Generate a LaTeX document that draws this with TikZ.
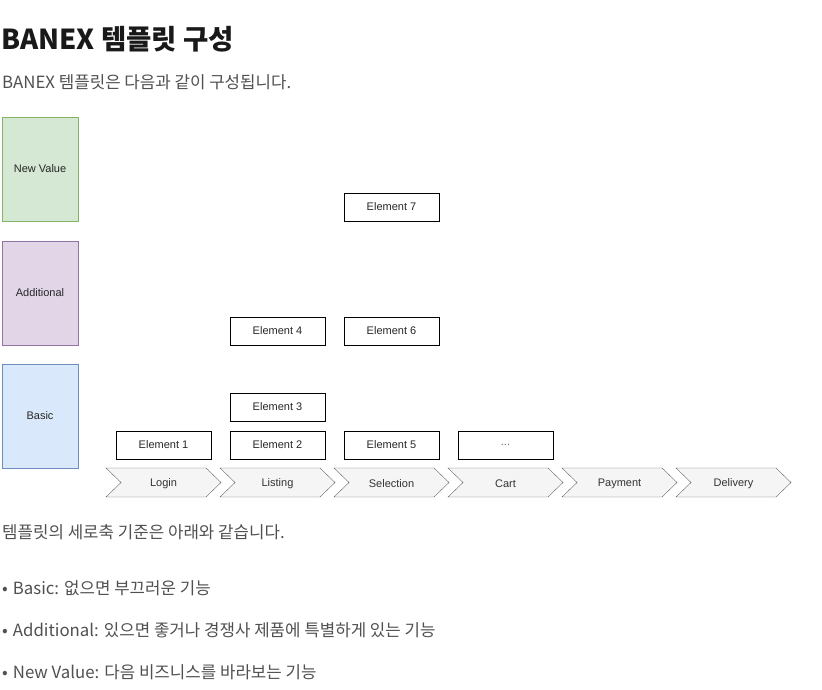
\documentclass[tikz,border=0pt]{standalone}
\usepackage{fontspec}
\setmainfont{Noto Sans CJK KR}
\newfontfamily\drawiofont{Liberation Sans}
\definecolor{bodytext}{HTML}{505050}
\definecolor{nvfill}{HTML}{D5E8D4}
\definecolor{nvline}{HTML}{82B366}
\definecolor{adfill}{HTML}{E1D5E7}
\definecolor{adline}{HTML}{9673A6}
\definecolor{bsfill}{HTML}{DAE8FC}
\definecolor{bsline}{HTML}{6C8EBF}
\definecolor{stepfill}{HTML}{F5F5F5}
\definecolor{stepline}{HTML}{666666}
\definecolor{steptext}{HTML}{333333}
\tikzset{
  level/.style={draw,minimum width=76pt,minimum height=104pt,inner sep=0pt,
    font=\drawiofont\fontsize{11}{13}\selectfont,text=black!85},
  element/.style={draw,thick,minimum width=95pt,minimum height=28pt,inner sep=0pt,
    font=\drawiofont\fontsize{11}{13}\selectfont,text=black!85},
  body/.style={anchor=base west,inner sep=0pt,text=bodytext,font=\fontsize{16.8}{19}\selectfont},
}
\begin{document}
\begin{tikzpicture}[x=1pt,y=-1pt]
\useasboundingbox (0,0) rectangle (822,690);

% page text
\node[anchor=base west,inner sep=0pt,text=black!90,font=\fontsize{27.5}{30}\selectfont\bfseries] (title) at (1,50) {BANEX 템플릿 구성};
\node[body] (intro) at (2,89) {BANEX 템플릿은 다음과 같이 구성됩니다.};

% levels
\node[level,fill=nvfill,draw=nvline] (newvalue) at (40,169) {New Value};
\node[level,fill=adfill,draw=adline] (additional) at (40,293) {Additional};
\node[level,fill=bsfill,draw=bsline] (basic) at (40,416) {Basic};

% elements
\node[element] (el1) at (163.5,445) {Element 1};
\node[element] (el2) at (277.5,445) {Element 2};
\node[element] (el3) at (277.5,407) {Element 3};
\node[element] (el4) at (277.5,331) {Element 4};
\node[element] (el5) at (391.5,445) {Element 5};
\node[element] (el6) at (391.5,331) {Element 6};
\node[element] (el7) at (391.5,207) {Element 7};
\node[element] (elmore) at (505.5,445) {\textcolor{black!60}{...}};

% process steps
\foreach \name [count=\i from 0] in {Login,Listing,Selection,Cart,Payment,Delivery}{
  \pgfmathsetmacro{\xs}{106+114*\i}
  \draw[fill=stepfill,draw=stepline] (\xs,468) -- ++(100,0) -- ++(15,14.5) -- ++(-15,14.5)
    -- ++(-100,0) -- ++(15,-14.5) -- cycle;
  \node[text=steptext,font=\drawiofont\fontsize{11}{13}\selectfont] (step\i) at (\xs+57.5,483.5) {\name};
}

% criteria
\node[body] (criteria) at (2,538) {템플릿의 세로축 기준은 아래와 같습니다.};
\node[body] (item1) at (2,594) {•\hspace{5pt}Basic: 없으면 부끄러운 기능};
\node[body] (item2) at (2,636) {•\hspace{5pt}Additional: 있으면 좋거나 경쟁사 제품에 특별하게 있는 기능};
\node[body] (item3) at (2,678) {•\hspace{5pt}New Value: 다음 비즈니스를 바라보는 기능};
\end{tikzpicture}
\end{document}
